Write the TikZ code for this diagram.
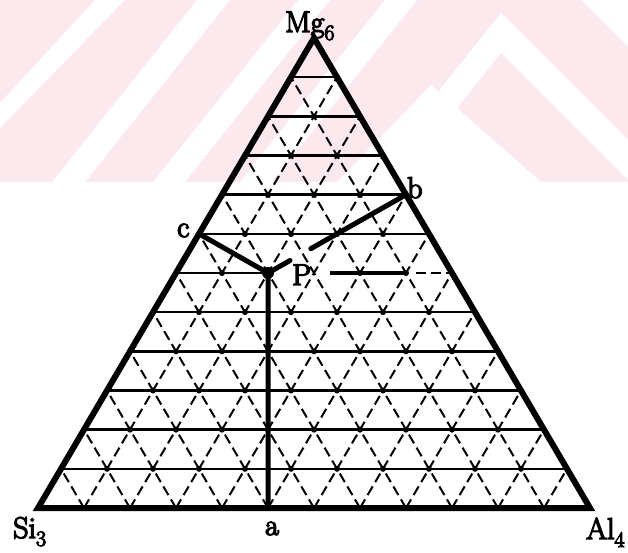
\documentclass[tikz,border=0pt]{standalone}
\usepackage{fontspec}
\newfontfamily\lbl{Latin Modern Roman}[FakeBold=4.5]
\definecolor{wm}{RGB}{252,233,237}
\begin{document}
\begin{tikzpicture}[x=1pt,y=-1pt,
  edge/.style={line width=6pt,line join=miter},
  gridrow/.style={line width=2.6pt},
  diag/.style={line width=2pt,dash pattern=on 10pt off 5pt},
  heavy/.style={line width=5pt,line cap=round},
  lab/.style={inner sep=0pt,font=\lbl\fontsize{30}{30}\selectfont}
]
\useasboundingbox (0,0) rectangle (628,553);
% watermark
\fill[wm] (0,0) rectangle (628,182);
\fill[white] (95,0) -- (125,0) -- (0,128) -- (0,103) -- cycle;
\fill[white] (197,0) -- (230,0) -- (85,182) -- (52,182) -- cycle;
\fill[white] (298,0) -- (330,0) -- (185,182) -- (153,182) -- cycle;
\fill[white] (385,0) -- (417,0) -- (272,182) -- (240,182) -- cycle;
\fill[white] (366,182) -- (501,13) -- (628,140) -- (628,180) -- (501,53) -- (398,182) -- cycle;
\fill[white] (431,85) -- (541,182) -- (337,182) -- cycle;
\fill[white] (581,0) -- (628,0) -- (628,47) -- cycle;
% vertices and points
\coordinate (L) at (38,508);
\coordinate (R) at (590,508);
\coordinate (T) at (314,38);
\coordinate (P) at (268,273);
\coordinate (a) at (268,508);
\coordinate (c) at (199,233.8);
\coordinate (b) at (406,194.7);
\coordinate (bend) at (310.8,248.7);
\coordinate (pstub) at (290,260.5);
\coordinate (r6L) at (176,273);
\coordinate (r6R) at (452,273);
\coordinate (s6a) at (330,273);
\coordinate (s6b) at (408,273);
\coordinate (s6c) at (416,273);
% horizontal rows
\foreach \k in {1,2,3,4,5,7,8,9,10,11}{
  \draw[gridrow] ({38+23*\k},{508-39.1667*\k}) -- ({590-23*\k},{508-39.1667*\k});
}
\draw[gridrow] (r6L) -- (P);
\draw[gridrow,line width=3.2pt] (s6a) -- (s6b);
\draw[diag] (s6c) -- (r6R);
% dashed diagonals
\foreach \j in {1,...,11}{
  \draw[diag] ({38+46*\j},508) -- ({38+46*\j+23*(12-\j)},{508-39.1667*(12-\j)});
  \draw[diag] ({38+46*\j},508) -- ({38+23*\j},{508-39.1667*\j});
}
% lattice dots
\foreach \k in {1,...,10}{
  \pgfmathtruncatemacro\imax{11-\k}
  \foreach \i in {1,...,\imax}{
    \pgfmathtruncatemacro\skipit{(\k==6)&&(\i==3)}
    \ifnum\skipit=0
      \fill ({38+46*\i+23*\k},{508-39.1667*\k}) circle (3pt);
    \fi
  }
}
% triangle
\draw[edge] (L) -- (T) -- (R) -- cycle;
% tie lines
\draw[heavy,line join=round] (c) -- (P) -- (a);
\draw[heavy] (b) -- (bend);
\draw[heavy] (P) -- (pstub);
\fill (P) circle (6pt);
% labels
\node[lab,anchor=base west] (mg) at (285,32) {Mg\raisebox{-8pt}{\fontsize{22}{22}\selectfont 6}};
\node[lab,anchor=base west] (si) at (13,538) {Si\raisebox{-8pt}{\fontsize{22}{22}\selectfont 3}};
\node[lab,anchor=base west] (al) at (586,539) {Al\raisebox{-8pt}{\fontsize{22}{22}\selectfont 4}};
\node[lab,anchor=base] (la) at (272,535) {a};
\node[lab,anchor=base west] (lb) at (407,198) {b};
\node[lab,anchor=base west] (lc) at (177,237) {c};
\node[lab,anchor=base west] (lp) at (292,285) {P};
\end{tikzpicture}
\end{document}
